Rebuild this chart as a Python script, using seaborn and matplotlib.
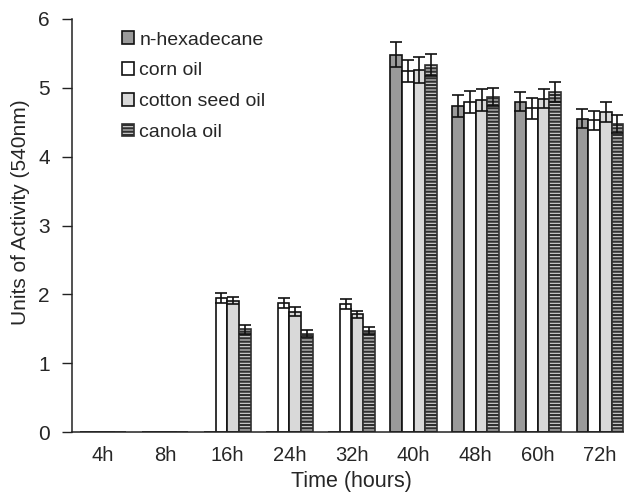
import matplotlib
matplotlib.use("Agg")
import matplotlib.pyplot as plt
import seaborn as sns
import pandas as pd
import numpy as np

times = ["4h", "8h", "16h", "24h", "32h", "40h", "48h", "60h", "72h"]
series = ["n-hexadecane", "corn oil", "cotton seed oil", "canola oil"]
hexadecane = [0, 0, 0, 0, 0, 5.48, 4.73, 4.80, 4.55]
corn = [0, 0, 1.95, 1.87, 1.86, 5.24, 4.80, 4.70, 4.53]
cotton = [0, 0, 1.91, 1.75, 1.71, 5.26, 4.82, 4.84, 4.65]
canola = [0, 0, 1.49, 1.43, 1.47, 5.33, 4.87, 4.94, 4.47]
hexadecane_err = [0, 0, 0, 0, 0, 0.18, 0.16, 0.14, 0.14]
corn_err = [0, 0, 0.07, 0.07, 0.07, 0.16, 0.16, 0.15, 0.14]
cotton_err = [0, 0, 0.05, 0.06, 0.05, 0.19, 0.16, 0.14, 0.14]
canola_err = [0, 0, 0.07, 0.05, 0.05, 0.16, 0.13, 0.15, 0.13]

values = [hexadecane, corn, cotton, canola]
errors = [hexadecane_err, corn_err, cotton_err, canola_err]

rows = []
for s, vals in zip(series, values):
    for t, v in zip(times, vals):
        rows.append({"time": t, "series": s, "value": v})
df = pd.DataFrame(rows)

sns.set_style("white")
plt.rcParams["font.family"] = ["Liberation Sans", "DejaVu Sans"]
plt.rcParams["hatch.linewidth"] = 1.6

fig = plt.figure(figsize=(6.24, 4.93), dpi=100)
ax = fig.add_axes([72 / 624, 61 / 493, 559 / 624, 413 / 493])

faces = ["#9a9a9a", "#ffffff", "#d9d9d9", "#d6d6d6"]
sns.barplot(data=df, x="time", y="value", hue="series", order=times,
            hue_order=series, palette=faces, errorbar=None, width=0.75,
            saturation=1, edgecolor="#111111", linewidth=1.2, legend=False, ax=ax)

bar_containers = list(ax.containers)

for i, cont in enumerate(bar_containers):
    for p in cont.patches:
        if i == 3:
            p.set_hatch("-----")
            p.set_edgecolor("#303030")
    xs = [p.get_x() + p.get_width() / 2 for p in cont.patches]
    hs = [p.get_height() for p in cont.patches]
    mask = [h > 0 for h in hs]
    xs_m = [x for x, m in zip(xs, mask) if m]
    hs_m = [h for h, m in zip(hs, mask) if m]
    es_m = [e for e, m in zip(errors[i], mask) if m]
    ax.errorbar(xs_m, hs_m, yerr=es_m, fmt="none", ecolor="#111111",
                elinewidth=1.2, capsize=4.4, capthick=1.2, zorder=5)

ax.set_ylim(0, 6)
ax.set_xlim(-0.5, 8.5)
ax.set_yticks(range(0, 7))
ax.set_xticks(range(len(times)))
ax.set_xticklabels(times)
ax.set_xticks(np.arange(-0.5, 8.6, 1), minor=True)
ax.tick_params(axis="x", which="major", length=0, labelsize=14.5, pad=10)
ax.tick_params(axis="x", which="minor", length=7, width=1, color="#222222", direction="out")
ax.tick_params(axis="y", which="major", length=7, width=1, color="#222222",
               direction="out", labelsize=15, left=True, pad=9)

for side in ["top", "right"]:
    ax.spines[side].set_visible(False)
for side in ["left", "bottom"]:
    ax.spines[side].set_color("#222222")
    ax.spines[side].set_linewidth(1.1)

ax.set_xlabel("Time (hours)", fontsize=15.5)
ax.set_ylabel("Units of Activity (540nm)", fontsize=15)
ax.xaxis.set_label_coords((351 - 72) / 559, -(481 - 432) / 413)
ax.yaxis.set_label_coords(-(72 - 21) / 559, (432 - 212) / 413)
ax.xaxis.label.set_va("center")
ax.yaxis.label.set_va("center")

handles = [cont.patches[0] for cont in bar_containers]
ax.legend(handles, series, loc="upper left", bbox_to_anchor=(0.09, 0.97),
          frameon=False, fontsize=14, handlelength=0.62, handleheight=0.62,
          handletextpad=0.25, labelspacing=0.7, borderpad=0, borderaxespad=0)

fig.savefig("out.png", dpi=100)
